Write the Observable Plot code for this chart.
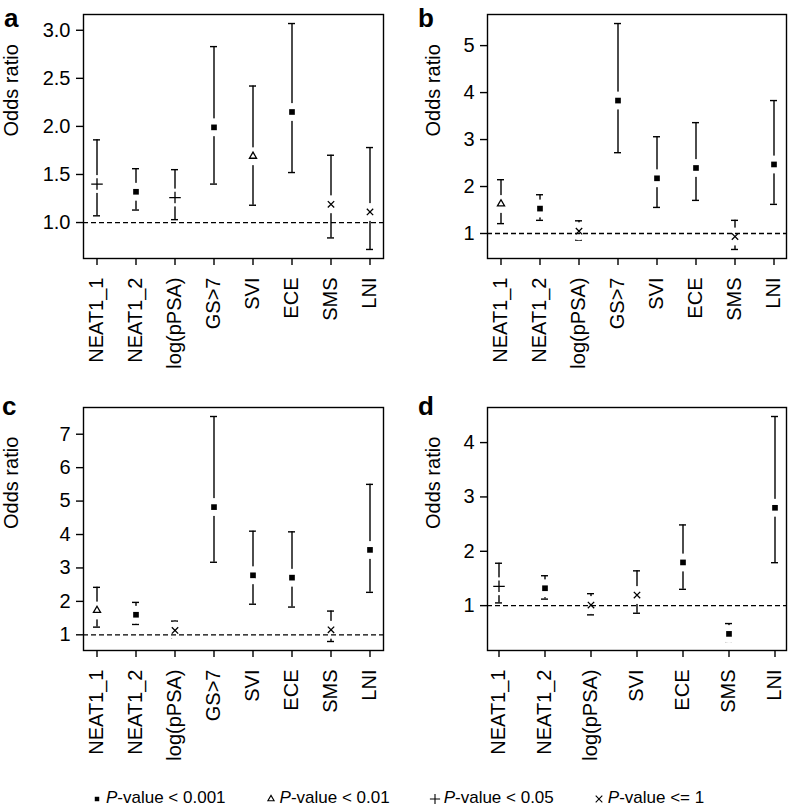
<!DOCTYPE html>
<html>
<head>
<meta charset="utf-8">
<script src="https://cdn.jsdelivr.net/npm/d3@7"></script>
<script src="https://cdn.jsdelivr.net/npm/@observablehq/plot@0.6"></script>
<style>
  body { margin: 0; background: #fff; }
  #root { position: relative; width: 788px; height: 806px; background: #fff;
          font-family: "Liberation Sans", Arial, Helvetica, sans-serif; color: #000; }
  .panel { position: absolute; }
  .letter { position: absolute; font-weight: bold; font-size: 26px; line-height: 1; }
  #legend { position: absolute; left: 92px; top: 788px; display: flex; align-items: center;
            font-size: 17px; line-height: 20px; white-space: nowrap; gap: 40px; }
  .item { display: flex; align-items: center; }
  .item svg { margin-right: 4px; overflow: visible; }
</style>
</head>
<body>
<div id="root"></div>
<script>
// ---------- data ----------
const catsABC = ["NEAT1_1", "NEAT1_2", "log(pPSA)", "GS>7", "SVI", "ECE", "SMS", "LNI"];
const catsD   = ["NEAT1_1", "NEAT1_2", "log(pPSA)", "SVI", "ECE", "SMS", "LNI"];

// panel a
const orA = [1.40, 1.32, 1.26, 1.99, 1.69, 2.15, 1.19, 1.11];
const loA = [1.07, 1.13, 1.03, 1.40, 1.18, 1.52, 0.84, 0.72];
const hiA = [1.86, 1.56, 1.55, 2.83, 2.42, 3.07, 1.70, 1.78];
const pA  = ["<0.05", "<0.001", "<0.05", "<0.001", "<0.01", "<0.001", "<=1", "<=1"];

// panel b
const orB = [1.63, 1.53, 1.05, 3.83, 2.175, 2.395, 0.935, 2.47];
const loB = [1.21, 1.28, 0.86, 2.72, 1.555, 1.705, 0.66, 1.62];
const hiB = [2.145, 1.825, 1.27, 5.47, 3.06, 3.36, 1.28, 3.83];
const pB  = ["<0.01", "<0.001", "<=1", "<0.001", "<0.001", "<0.001", "<=1", "<0.001"];

// panel c
const orC = [1.73, 1.60, 1.13, 4.82, 2.78, 2.71, 1.15, 3.54];
const loC = [1.23, 1.31, 0.90, 3.17, 1.915, 1.83, 0.80, 2.27];
const hiC = [2.42, 1.97, 1.41, 7.53, 4.10, 4.08, 1.71, 5.50];
const pC  = ["<0.01", "<0.001", "<=1", "<0.001", "<0.001", "<0.001", "<=1", "<0.001"];

// panel d
const orD = [1.355, 1.32, 1.01, 1.195, 1.795, 0.48, 2.80];
const loD = [1.05, 1.12, 0.83, 0.86, 1.30, 0.34, 1.79];
const hiD = [1.78, 1.55, 1.22, 1.64, 2.485, 0.67, 4.48];
const pD  = ["<0.05", "<0.001", "<=1", "<=1", "<0.001", "<0.001", "<0.001"];

const ticksA = [1.0, 1.5, 2.0, 2.5, 3.0];
const ticksB = [1, 2, 3, 4, 5];
const ticksC = [1, 2, 3, 4, 5, 6, 7];
const ticksD = [1, 2, 3, 4];

const legendItems = [
  {p: "<0.001", text: "-value < 0.001"},
  {p: "<0.01",  text: "-value < 0.01"},
  {p: "<0.05",  text: "-value < 0.05"},
  {p: "<=1",    text: "-value <= 1"}
];

// ---------- drawing ----------
const FONT = '"Liberation Sans", Arial, Helvetica, sans-serif';
const LW = 1.4;
const FS = 20;

function panel(cats, or, lo, hi, p, o) {
  const data = cats.map((c, i) => ({cat: c, or: or[i], lo: lo[i], hi: hi[i], p: p[i]}));
  const [mn, mx] = d3.extent([...lo, ...hi]);
  const ypad = (mx - mn) * 0.04;
  const n = cats.length;
  const W = o.width - o.ml - o.mr;
  const e = 0.04 * (n - 1);
  const U = (n - 1) + 2 * e;
  const step = W / U;
  const pi = 1 - 7 / step;           // 7px wide caps
  const po = e - (1 - pi) / 2;
  const by = s => data.filter(d => d.p === s);
  return Plot.plot({
    width: o.width, height: o.height,
    marginLeft: o.ml, marginRight: o.mr, marginTop: o.mt, marginBottom: o.mb,
    style: {fontSize: FS + "px", fontFamily: FONT, color: "black", background: "white", overflow: "visible"},
    x: {type: "band", domain: cats, paddingInner: pi, paddingOuter: po},
    y: {domain: [mn - ypad, mx + ypad]},
    marks: [
      Plot.ruleX(data, {x: "cat", y1: "lo", y2: "hi", stroke: "black", strokeWidth: LW}),
      Plot.tickY(data, {x: "cat", y: "hi", stroke: "black", strokeWidth: LW}),
      Plot.tickY(data, {x: "cat", y: "lo", stroke: "black", strokeWidth: LW}),
      Plot.dot(data, {x: "cat", y: "or", r: 9, fill: "white", stroke: "none"}),
      Plot.ruleY([1], {stroke: "black", strokeWidth: 1.3, strokeDasharray: "5,3"}),
      Plot.dot(by("<0.001"), {x: "cat", y: "or", symbol: "square", r: 3.2, fill: "black", stroke: "none"}),
      Plot.dot(by("<0.01"), {x: "cat", y: "or", symbol: "triangle2", r: 3.4, fill: "none", stroke: "black", strokeWidth: 1.3}),
      Plot.dot(by("<0.05"), {x: "cat", y: "or", symbol: "plus", r: 3.8, fill: "none", stroke: "black", strokeWidth: 1.3}),
      Plot.dot(by("<=1"), {x: "cat", y: "or", symbol: "times", r: 3.0, fill: "none", stroke: "black", strokeWidth: 1.3}),
      Plot.frame({stroke: "black", strokeWidth: LW}),
      Plot.axisY({ticks: o.ticks, tickFormat: o.fmt, tickSize: 7, tickPadding: 6, label: null,
                  strokeWidth: LW, fontSize: FS, fontFamily: FONT, fill: "black"}),
      Plot.axisX({tickRotate: -90, tickSize: 7, tickPadding: 12, label: null,
                  strokeWidth: LW, fontSize: FS, fontFamily: FONT, fill: "black"}),
      Plot.text(["Odds ratio"], {frameAnchor: "left", rotate: -90, dx: o.ldx, fontSize: FS, fontFamily: FONT, fill: "black"})
    ]
  });
}

const root = document.getElementById("root");
function place(node, left, top) {
  node.classList.add("panel");
  node.style.left = left + "px";
  node.style.top = top + "px";
  root.appendChild(node);
}
function letter(ch, left, top) {
  const d = document.createElement("div");
  d.className = "letter";
  d.textContent = ch;
  d.style.left = left + "px";
  d.style.top = top + "px";
  root.appendChild(d);
}

place(panel(catsABC, orA, loA, hiA, pA, {width: 394, height: 400, ml: 83, mr: 11, mt: 14, mb: 142, ticks: ticksA, fmt: d3.format(".1f"), ldx: -72}), 0, 0);
place(panel(catsABC, orB, loB, hiB, pB, {width: 394, height: 400, ml: 93, mr: 2, mt: 14, mb: 142, ticks: ticksB, fmt: d3.format("d"), ldx: -54}), 394, 0);
place(panel(catsABC, orC, loC, hiC, pC, {width: 394, height: 370, ml: 83, mr: 11, mt: 7, mb: 120, ticks: ticksC, fmt: d3.format("d"), ldx: -72}), 0, 400);
place(panel(catsD, orD, loD, hiD, pD, {width: 394, height: 370, ml: 93, mr: 2, mt: 7, mb: 120, ticks: ticksD, fmt: d3.format("d"), ldx: -54}), 394, 400);

letter("a", 4, 5);
letter("b", 418, 5);
letter("c", 2, 393);
letter("d", 418, 393);

// legend
const symDef = {
  "<0.001": {type: d3.symbolSquare, size: 20, fill: "black", stroke: "none"},
  "<0.01":  {type: d3.symbolTriangle2, size: 28, fill: "none", stroke: "black"},
  "<0.05":  {type: d3.symbolPlus, size: 36, fill: "none", stroke: "black"},
  "<=1":    {type: d3.symbolTimes, size: 30, fill: "none", stroke: "black"}
};
const legend = d3.select(root).append("div").attr("id", "legend");
for (const it of legendItems) {
  const item = legend.append("div").attr("class", "item");
  const s = symDef[it.p];
  item.append("svg").attr("width", 10).attr("height", 10)
    .append("path")
    .attr("transform", "translate(5,6)")
    .attr("d", d3.symbol(s.type, s.size)())
    .attr("fill", s.fill).attr("stroke", s.stroke).attr("stroke-width", 1.1);
  const t = item.append("span");
  t.append("i").text("P");
  t.append("span").text(it.text);
}
</script>
</body>
</html>
